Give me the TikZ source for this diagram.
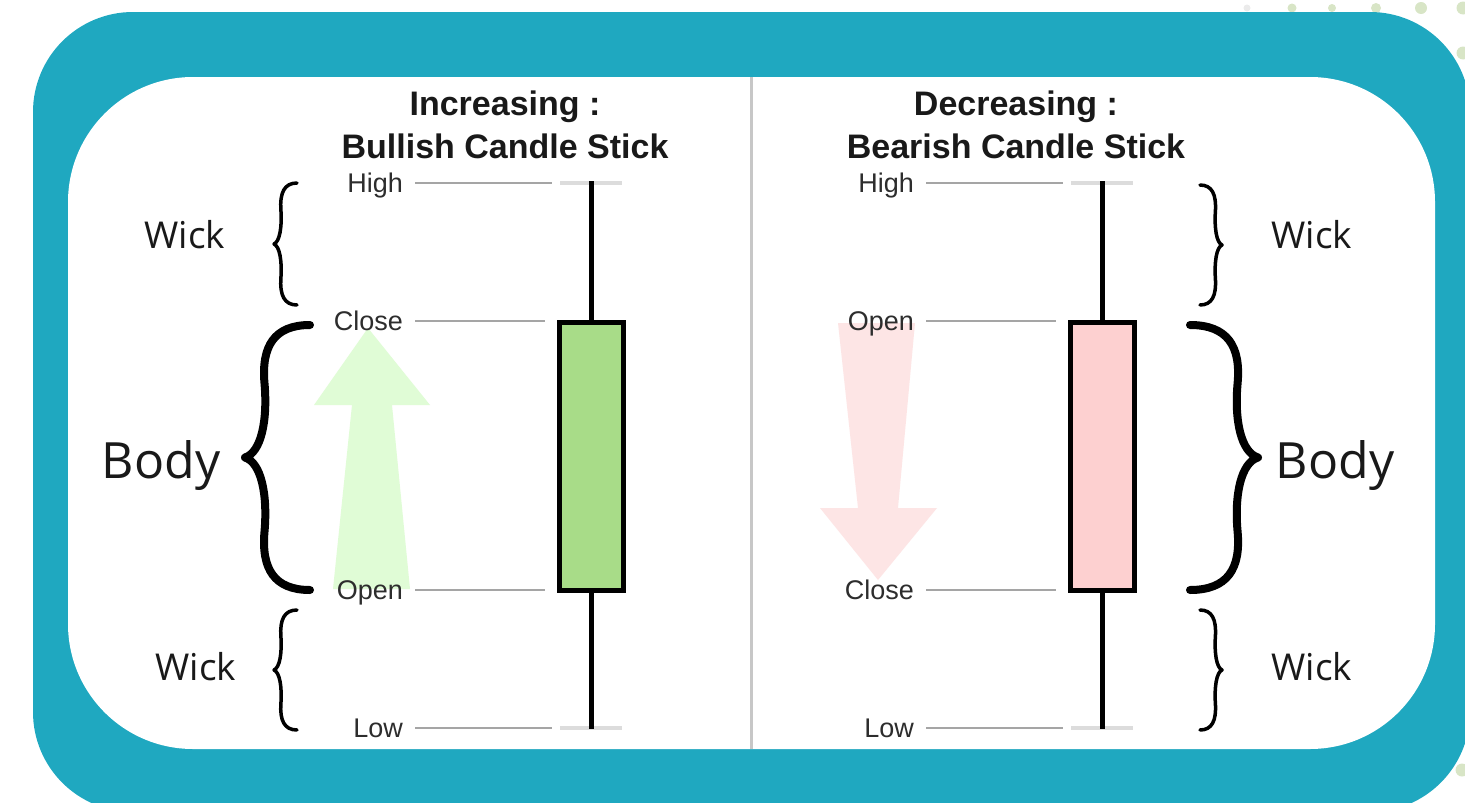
\documentclass[tikz,border=0pt]{standalone}
\usepackage{fontspec}
\setmainfont{Liberation Sans}
\newfontfamily\partfont{Open Sans}
\usetikzlibrary{calc,positioning}
\definecolor{tealbg}   {RGB}{31,168,192}
\definecolor{bullgreen}{RGB}{168,220,136}
\definecolor{bearpink} {RGB}{253,208,208}
\definecolor{upgreen}  {RGB}{224,252,214}
\definecolor{downpink} {RGB}{253,229,229}
\definecolor{dotgreen} {RGB}{216,229,198}
\definecolor{guidegray}{RGB}{165,165,165}
\definecolor{stubgray} {RGB}{220,220,220}
\definecolor{inkgray}  {RGB}{45,45,45}

\tikzset{
  head/.style={font=\bfseries\fontsize{34}{40}\selectfont, anchor=base, text=black!90, inner sep=0pt},
  price/.style={font=\fontsize{27}{32}\selectfont, text=inkgray, anchor=east, inner sep=0pt,
                text height=19.3pt, text depth=0pt},
  partlbl/.style={font=\partfont\fontsize{37}{44}\selectfont, anchor=base, text=black!90, inner sep=0pt},
  guide/.style={guidegray, line width=2pt},
  stub/.style={stubgray, line width=4pt},
  wick/.style={black, line width=5pt},
  candle/.style={draw=black, line width=5pt, minimum width=64pt, minimum height=268pt, inner sep=0pt},
  % curly brace opening to the left, hanging down from its top end
  pics/curly/.style 2 args={code={
    \draw[line cap=round, line join=round]
      (0,0) .. controls ({-0.55*#2},0) and ({-0.75*#2},{0.08*#1}) .. ({-0.7*#2},{0.22*#1})
            .. controls ({-0.65*#2},{0.36*#1}) and ({-0.75*#2},{0.48*#1}) .. ({-#2},{0.5*#1})
            .. controls ({-0.75*#2},{0.52*#1}) and ({-0.65*#2},{0.64*#1}) .. ({-0.7*#2},{0.78*#1})
            .. controls ({-0.75*#2},{0.92*#1}) and ({-0.55*#2},{#1}) .. (0,{#1});
  }}
}

\begin{document}
\begin{tikzpicture}[x=1pt,y=-1pt]
\useasboundingbox (0,0) rectangle (1465,803);
\clip (0,0) rectangle (1465,803);

% frame
\foreach \x/\r/\c in {1247/3.5/black!8, 1292/4.5/dotgreen, 1332/4/dotgreen, 1376/5/dotgreen, 1421/6/dotgreen, 1463/6.5/dotgreen}
  \fill[\c] (\x,8) circle (\r);
\fill[dotgreen] (1463,53) circle (6.5);
\fill[dotgreen] (1462,770) circle (6.5);
\fill[tealbg, rounded corners=100pt] (33,12) rectangle (1470,812);
\fill[white, rounded corners=125pt] (68,77) rectangle (1435,749);
\draw[black!22, line width=3pt] (751,77) -- (751,749);

% titles
\node[head] (incL) at (505,115) {Increasing :};
\node[head] (bullL) at (505,158) {Bullish Candle Stick};
\node[head] (decR) at (1016,115) {Decreasing :};
\node[head] (bearR) at (1016,158) {Bearish Candle Stick};

% direction arrows
\fill[upgreen] (368,328) -- (430,405) -- (392,405) -- (410,589) -- (333,589) -- (352,405) -- (314,405) -- cycle;
\fill[downpink] (838,323) -- (915,323) -- (898,508) -- (937,508) -- (878,580) -- (820,508) -- (858,508) -- cycle;

% bullish candle
\coordinate (topL) at (591,183);
\coordinate (lowL) at (591,728);
\node[candle, fill=bullgreen] (bodyL) at (591,456.5) {};
\draw[stub] ([xshift=-31pt]topL) -- ([xshift=31pt]topL);
\draw[stub] ([xshift=-31pt]lowL) -- ([xshift=31pt]lowL);
\draw[wick] ([yshift=2pt]topL) -- (bodyL.north);
\draw[wick] (bodyL.south) -- ([yshift=-1pt]lowL);

\node[price] (highL) at (403,183) {High};
\node[price] (closeL) at (403,321) {Close};
\node[price] (openL) at (403,590) {Open};
\node[price] (lowLbl) at (403,728) {Low};
\draw[guide] ([xshift=12pt]highL.east) -- ([xshift=-39pt]topL);
\draw[guide] ([xshift=12pt]closeL.east) -- ($(closeL.east -| bodyL.west)+(-12,0)$);
\draw[guide] ([xshift=12pt]openL.east) -- ($(openL.east -| bodyL.west)+(-12,0)$);
\draw[guide] ([xshift=12pt]lowLbl.east) -- ([xshift=-39pt]lowL);

% bearish candle
\coordinate (topR) at (1102,183);
\coordinate (lowR) at (1102,728);
\node[candle, fill=bearpink] (bodyR) at (1102,456.5) {};
\draw[stub] ([xshift=-31pt]topR) -- ([xshift=31pt]topR);
\draw[stub] ([xshift=-31pt]lowR) -- ([xshift=31pt]lowR);
\draw[wick] ([yshift=2pt]topR) -- (bodyR.north);
\draw[wick] (bodyR.south) -- ([yshift=-1pt]lowR);

\node[price] (highR) at (914,183) {High};
\node[price] (openR) at (914,321) {Open};
\node[price] (closeR) at (914,590) {Close};
\node[price] (lowRlbl) at (914,728) {Low};
\draw[guide] ([xshift=12pt]highR.east) -- ([xshift=-39pt]topR);
\draw[guide] ([xshift=12pt]openR.east) -- ($(openR.east -| bodyR.west)+(-12,0)$);
\draw[guide] ([xshift=12pt]closeR.east) -- ($(closeR.east -| bodyR.west)+(-12,0)$);
\draw[guide] ([xshift=12pt]lowRlbl.east) -- ([xshift=-39pt]lowR);

% braces and part names
\pic[line width=3.5pt] at (297,183) {curly={122}{23}};
\pic[line width=8pt] at (310,325) {curly={265}{65}};
\pic[line width=3.5pt] at (297,610) {curly={120}{23}};
\pic[line width=3.5pt, xscale=-1] at (1200,185) {curly={120}{22}};
\pic[line width=8pt, xscale=-1] at (1190,325) {curly={265}{68}};
\pic[line width=3.5pt, xscale=-1] at (1200,610) {curly={120}{22}};

\node[partlbl] (wickTL) at (185,248) {Wick};
\node[partlbl, font=\partfont\fontsize{50}{60}\selectfont] (bodyTL) at (161,478) {Body};
\node[partlbl] (wickBL) at (196,680) {Wick};
\node[partlbl] (wickTR) at (1312,248) {Wick};
\node[partlbl, font=\partfont\fontsize{50}{60}\selectfont] (bodyTR) at (1335,478) {Body};
\node[partlbl] (wickBR) at (1312,680) {Wick};
\end{tikzpicture}
\end{document}
